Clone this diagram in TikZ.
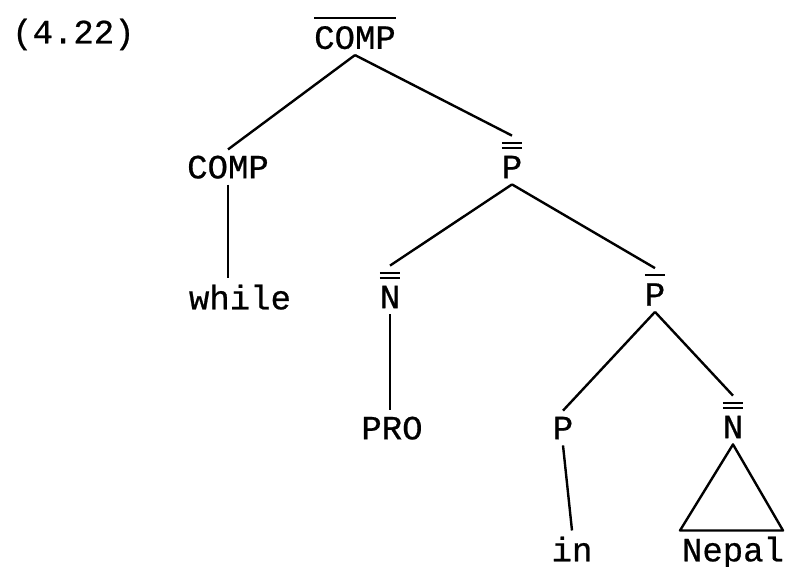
\documentclass[tikz,border=0pt]{standalone}
\usepackage{fontspec}
\newfontfamily\treefont[FakeBold=0.6]{Liberation Mono}
\usetikzlibrary{calc}
\newcommand\barred[2]{\setbox0\hbox{#2}\vbox{\hrule width \wd0 height 2pt \ifnum#1>1 \kern3pt\hrule width\wd0 height 2pt\fi \kern7pt\box0}}
\begin{document}
\begin{tikzpicture}[x=1pt,y=-1pt,
  lab/.style={inner sep=6pt, text depth=0pt, font=\treefont\fontsize{34}{40}\selectfont},
  edge/.style={line width=2.4pt}]
\useasboundingbox (0,0) rectangle (787,566);
\node[lab, anchor=west] (num) at (6,31) {(4.22)};
\node[lab] (root) at (355,33) {\barred{1}{COMP}};
\node[lab] (comp) at (228,167) {COMP};
\node[lab] (pp) at (512,160) {\barred{2}{P}};
\node[lab] (while) at (240,297) {while};
\node[lab] (n1) at (390,290) {\barred{2}{N}};
\node[lab] (pb) at (655,290) {\barred{1}{P}};
\node[lab] (pro) at (392,428) {PRO};
\node[lab] (p) at (563,428) {P};
\node[lab] (n2) at (733,420) {\barred{2}{N}};
\node[lab] (in) at (572,549) {in};
\node[lab] (nepal) at (733,549) {Nepal};
\draw[edge] (root.south) -- (comp.north);
\draw[edge] (root.south) -- (pp.north);
\draw[edge] (comp.south) -- (comp.south |- while.north);
\draw[edge] (pp.south) -- (n1.north);
\draw[edge] (pp.south) -- (pb.north);
\draw[edge] (n1.south) -- (n1.south |- pro.north);
\draw[edge] (pb.south) -- (p.north);
\draw[edge] (pb.south) -- (n2.north);
\draw[edge] (p.south) -- (in.north);
\draw[edge, line join=round] (n2.south) -- ($(nepal.north)+(-53,0)$) -- ($(nepal.north)+(50,0)$) -- cycle;
\end{tikzpicture}
\end{document}
